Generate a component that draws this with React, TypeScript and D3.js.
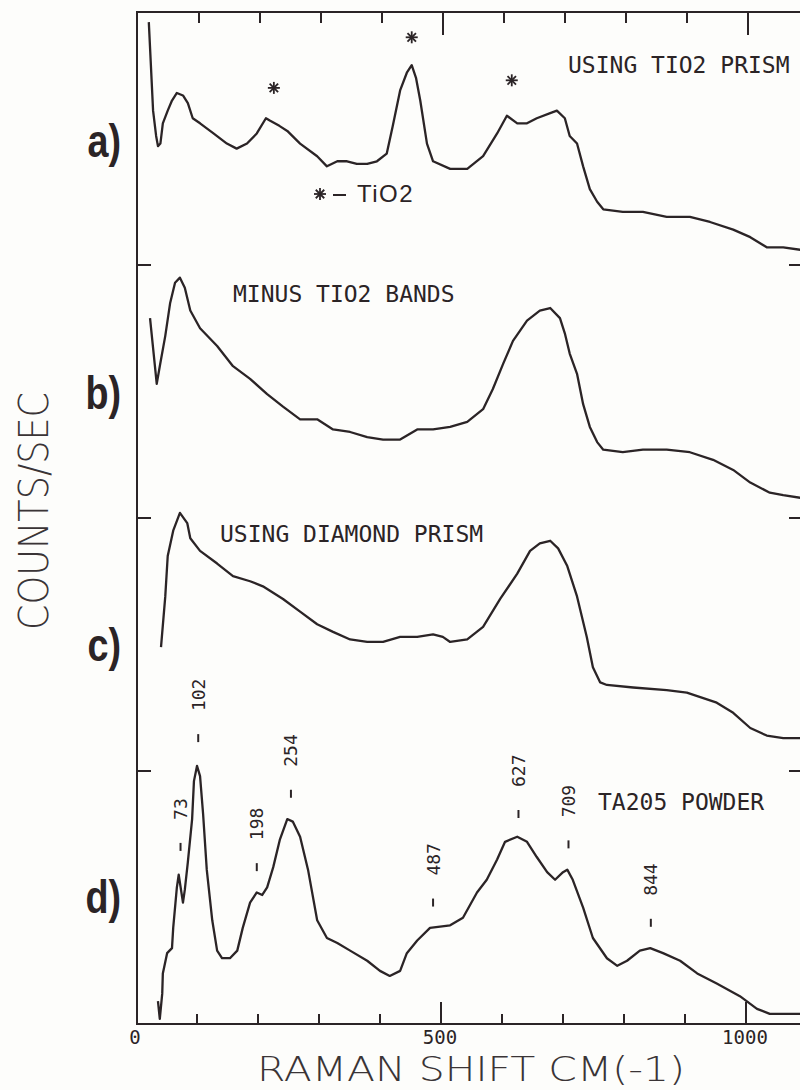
import React, { useEffect, useRef } from "react";
import * as d3 from "d3";

type Pt = [number, number];

// [raman shift cm-1, counts/sec (arb.)]
const spectrumA: Pt[] = [
  [21, 96], [28, 61], [33, 51], [36, 47], [40, 48], [44, 56], [52, 61], [59, 65], [67, 68],
  [77, 67], [85, 64], [93, 58], [105, 56], [127, 52], [149, 48], [165, 46], [182, 48],
  [198, 52], [213, 58], [220, 57], [235, 55], [248, 53], [269, 48], [297, 43], [313, 39],
  [330, 41], [346, 41], [362, 40], [379, 40], [395, 41], [411, 44], [421, 55], [433, 69],
  [444, 76], [452, 79], [459, 74], [466, 65], [477, 48], [487, 41], [515, 38], [543, 38],
  [569, 43], [592, 52], [608, 59], [625, 56], [641, 56], [657, 58], [679, 60], [690, 61],
  [703, 58], [711, 51], [723, 48], [733, 39], [744, 30], [756, 25], [766, 22], [798, 21],
  [831, 21], [870, 19], [908, 19], [941, 17], [979, 14], [1007, 11], [1034, 7], [1061, 7],
  [1089, 6],
];

const spectrumB: Pt[] = [
  [23, 79], [34, 53], [39, 60], [48, 72], [56, 85], [64, 93], [72, 95], [80, 91], [89, 82],
  [105, 75], [133, 68], [159, 60], [187, 55], [215, 49], [241, 44], [269, 39], [297, 39],
  [323, 35], [351, 34], [379, 32], [405, 31], [433, 31], [461, 35], [487, 35], [515, 36],
  [543, 38], [569, 43], [585, 51], [602, 61], [618, 70], [641, 78], [662, 82], [679, 83],
  [695, 79], [703, 73], [711, 65], [723, 57], [733, 45], [744, 36], [756, 30], [766, 27],
  [798, 26], [831, 27], [870, 27], [908, 26], [946, 23], [979, 19], [1007, 14], [1039, 10],
  [1061, 9], [1089, 8],
];

const spectrumC: Pt[] = [
  [41, 49], [48, 69], [52, 85], [61, 95], [72, 102], [84, 98], [89, 92], [105, 87], [133, 82],
  [159, 77], [187, 75], [208, 73], [241, 68], [269, 63], [297, 58], [323, 55], [351, 52],
  [379, 51], [405, 51], [433, 53], [461, 53], [487, 54], [503, 53], [515, 51], [543, 52],
  [569, 57], [597, 68], [625, 78], [646, 87], [662, 90], [679, 91], [692, 88], [707, 81],
  [723, 69], [739, 53], [749, 41], [761, 35], [772, 34], [815, 33], [870, 32], [903, 31],
  [952, 27], [979, 23], [1007, 17], [1034, 14], [1061, 13], [1089, 13],
];

const spectrumD: Pt[] = [
  [36, 9], [39, 2], [43, 12], [44, 20], [51, 28], [59, 30], [61, 38], [67, 54], [70, 59],
  [77, 48], [80, 53], [85, 64], [92, 81], [95, 96], [100, 102], [105, 98], [110, 83],
  [116, 61], [125, 41], [133, 29], [141, 26], [154, 26], [166, 29], [175, 38], [187, 48],
  [198, 52], [207, 51], [215, 54], [225, 62], [236, 73], [248, 81], [257, 80], [269, 74],
  [282, 61], [297, 41], [313, 34], [330, 32], [351, 29], [379, 25], [400, 21], [416, 19],
  [433, 21], [444, 28], [461, 33], [482, 38], [515, 39], [536, 42], [559, 52], [575, 57],
  [592, 65], [605, 72], [625, 74], [641, 72], [657, 66], [674, 60], [687, 57], [700, 60],
  [707, 61], [716, 57], [733, 46], [749, 34], [772, 26], [789, 23], [805, 25], [826, 29],
  [843, 30], [864, 28], [892, 25], [920, 20], [952, 16], [990, 11], [1018, 6], [1039, 4],
  [1061, 4], [1089, 4],
];

const spectra = [spectrumA, spectrumB, spectrumC, spectrumD];
const panelOffsets = [300, 200, 100, 0];
const panelLabels = ["a)", "b)", "c)", "d)"];
const panelTitles = ["USING TIO2 PRISM", "MINUS TIO2 BANDS", "USING DIAMOND PRISM", "TA205 POWDER"];

// Ta2O5 powder band positions and the level of their markers
const peakShifts = [73, 102, 198, 254, 487, 627, 709, 844];
const peakLevels = [70, 113, 62, 91, 48, 83, 71, 40];

// TiO2 bands marked with * in trace a)
const tio2Bands = [226, 452, 616];
const tio2Levels = [70, 90, 73];

const xTickLabels = [0, 500, 1000];

const App = () => {
  const ref = useRef<any>(null);
  const width = 800;
  const height = 1090;

  useEffect(() => {
    const svg = d3.select(ref.current);
    svg.selectAll("*").remove();

    const x = d3.scaleLinear().domain([0, 1000]).range([136, 746]);
    const y = d3.scaleLinear().domain([0, 400]).range([1024, 12]);
    const ink = "#2b2426";
    const left = 137, right = 803, top = 12, bottom = 1024;

    svg.append("rect").attr("width", width).attr("height", height).attr("fill", "#fdfdfb");

    // frame
    const frame = svg.append("g").attr("stroke", ink).attr("stroke-width", 2).attr("fill", "none");
    frame.append("path").attr("d", `M${left},${top}V${bottom}H${right}V${top}Z`);

    // x ticks top and bottom
    d3.range(100, 1100, 100).forEach((v) => {
      const big = v % 500 === 0;
      frame.append("line").attr("x1", x(v)).attr("x2", x(v))
        .attr("y1", bottom).attr("y2", bottom - (big ? 22 : 10));
      frame.append("line").attr("x1", x(v) + 2).attr("x2", x(v) + 2)
        .attr("y1", top).attr("y2", top + (big ? 23 : 11));
    });
    // panel separators
    [100, 200, 300].forEach((v) => {
      frame.append("line").attr("x1", left).attr("x2", left + 14).attr("y1", y(v)).attr("y2", y(v));
      frame.append("line").attr("x1", right).attr("x2", right - 14).attr("y1", y(v)).attr("y2", y(v));
    });

    svg.selectAll(".xlab")
      .data(xTickLabels)
      .enter()
      .append("text")
      .attr("x", (d) => x(d) - 1)
      .attr("y", 1044)
      .attr("text-anchor", "middle")
      .style("font-family", "DejaVu Sans Mono")
      .style("font-size", "19px")
      .attr("fill", ink)
      .text((d) => String(d));

    // spectra
    const clip = svg.append("clipPath").attr("id", "plotclip");
    clip.append("rect").attr("x", left).attr("y", top).attr("width", right - left).attr("height", bottom - top);

    spectra.forEach((s, i) => {
      const line = d3.line<Pt>()
        .x((d) => x(d[0]))
        .y((d) => y(d[1] + panelOffsets[i]));
      svg.append("path")
        .attr("d", line(s))
        .attr("clip-path", "url(#plotclip)")
        .attr("fill", "none")
        .attr("stroke", ink)
        .attr("stroke-width", 2.3)
        .attr("stroke-linejoin", "round");
    });

    // panel letters
    panelLabels.forEach((t, i) => {
      svg.append("text")
        .attr("transform", `translate(121,${157 + 252 * i}) scale(0.82,1)`)
        .attr("text-anchor", "end")
        .style("font-family", "Liberation Sans, Arial, sans-serif")
        .style("font-weight", "bold")
        .style("font-size", "46px")
        .attr("fill", ink)
        .text(t);
    });

    // panel titles
    const titleAt: Pt[] = [[568, 73], [233, 302], [220, 542], [598, 810]];
    panelTitles.forEach((t, i) => {
      svg.append("text")
        .attr("x", titleAt[i][0])
        .attr("y", titleAt[i][1])
        .style("font-family", "DejaVu Sans Mono")
        .style("font-size", "23px")
        .attr("fill", ink)
        .text(t);
    });

    // asterisk marks
    const star = (cx: number, cy: number, r: number) => {
      const g = svg.append("g").attr("stroke", ink).attr("stroke-width", 1.8);
      [0, 45, 90, 135].forEach((a) => {
        const rad = (a * Math.PI) / 180;
        g.append("line")
          .attr("x1", cx - r * Math.cos(rad)).attr("y1", cy - r * Math.sin(rad))
          .attr("x2", cx + r * Math.cos(rad)).attr("y2", cy + r * Math.sin(rad));
      });
    };
    tio2Bands.forEach((b, i) => star(x(b), y(300 + tio2Levels[i]), 6));

    star(320, 194, 6);
    svg.append("line").attr("x1", 333).attr("x2", 346).attr("y1", 195).attr("y2", 195)
      .attr("stroke", ink).attr("stroke-width", 2);
    svg.append("text")
      .attr("x", 357).attr("y", 202)
      .style("font-family", "Liberation Sans, Arial, sans-serif")
      .style("font-size", "24px")
      .style("letter-spacing", "1.5px")
      .attr("fill", ink)
      .text("TiO2");

    // Ta2O5 band labels
    peakShifts.forEach((p, i) => {
      const py = y(peakLevels[i]);
      svg.append("line")
        .attr("x1", x(p)).attr("x2", x(p))
        .attr("y1", py - 4).attr("y2", py + 4)
        .attr("stroke", ink).attr("stroke-width", 2);
      svg.append("text")
        .attr("transform", `translate(${x(p) + 6.5},${py - 27}) rotate(-90)`)
        .style("font-family", "DejaVu Sans Mono")
        .style("font-size", "18px")
        .attr("fill", ink)
        .text(String(p));
    });

    // axis titles
    svg.append("text")
      .attr("x", 257).attr("y", 1081)
      .attr("textLength", 428)
      .attr("lengthAdjust", "spacingAndGlyphs")
      .style("font-family", "DejaVu Sans")
      .style("font-weight", "200")
      .style("font-size", "34px")
      .attr("fill", "#3a3436")
      .text("RAMAN SHIFT CM(-1)");

    svg.append("text")
      .attr("transform", "translate(48,630) rotate(-90)")
      .attr("textLength", 238)
      .attr("lengthAdjust", "spacingAndGlyphs")
      .style("font-family", "DejaVu Sans")
      .style("font-weight", "200")
      .style("font-size", "40px")
      .attr("fill", "#3a3436")
      .text("COUNTS/SEC");
  }, []);

  return (
    <svg
      ref={ref}
      width={width}
      height={height}
      style={{ position: "absolute", left: 0, top: 0 }}
    ></svg>
  );
};

export default App;
